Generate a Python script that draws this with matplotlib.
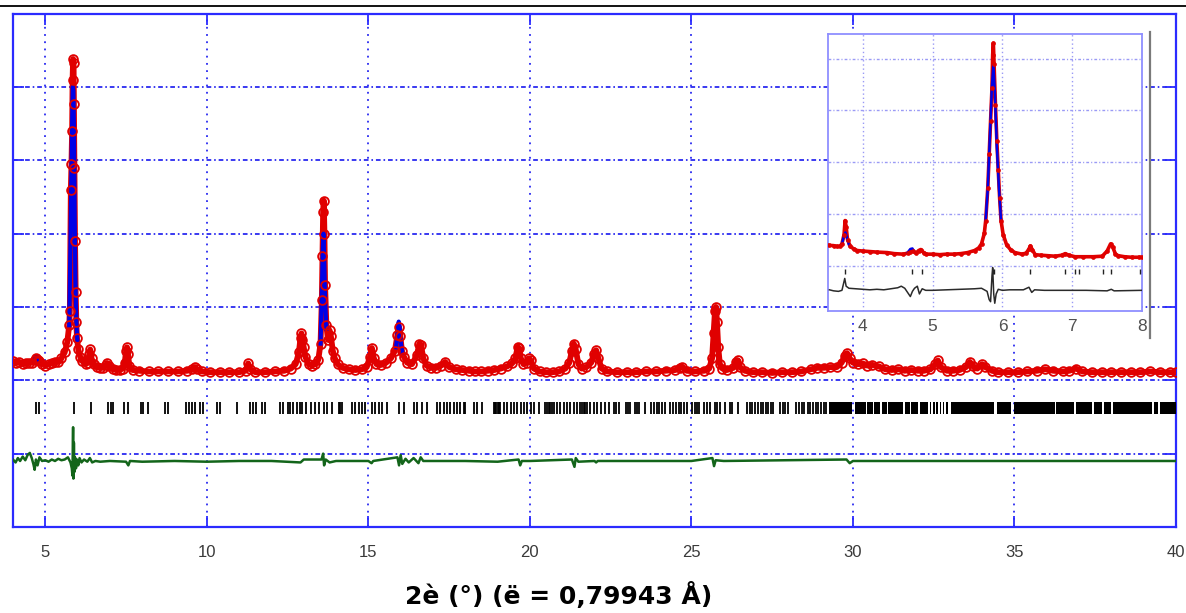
import numpy as np
import matplotlib
matplotlib.use("Agg")
import matplotlib.pyplot as plt
from matplotlib.lines import Line2D

# ---------------- main pattern data ----------------
obs_x = [4.00, 4.10, 4.20, 4.30, 4.40, 4.50, 4.60, 4.68, 4.72, 4.76, 4.82, 4.90,
         5.00, 5.10, 5.20, 5.30, 5.40, 5.50, 5.60, 5.68, 5.74, 5.76, 5.79, 5.81,
         5.83, 5.845, 5.86, 5.875, 5.885, 5.90, 5.92, 5.94, 5.96, 5.98, 6.02, 6.08,
         6.15, 6.25, 6.32, 6.36, 6.39, 6.43, 6.50, 6.60, 6.70, 6.80, 6.88, 6.92,
         6.98, 7.10, 7.20, 7.30, 7.40, 7.46, 7.50, 7.53, 7.56, 7.60, 7.70, 7.90,
         8.20, 8.50, 8.80, 9.10, 9.40, 9.55, 9.63, 9.70, 9.85, 10.1, 10.4, 10.7,
         11.0, 11.2, 11.28, 11.35, 11.5, 11.8, 12.1, 12.4, 12.6, 12.75, 12.85, 12.90,
         12.93, 12.96, 13.00, 13.05, 13.15, 13.25, 13.35, 13.45, 13.52, 13.56, 13.58, 13.60,
         13.62, 13.64, 13.66, 13.70, 13.75, 13.80, 13.84, 13.90, 13.96, 14.05, 14.2, 14.4,
         14.6, 14.8, 14.95, 15.05, 15.11, 15.17, 15.25, 15.4, 15.55, 15.7, 15.82, 15.90,
         15.95, 15.99, 16.04, 16.10, 16.2, 16.35, 16.50, 16.58, 16.63, 16.70, 16.8, 16.95,
         17.1, 17.25, 17.38, 17.5, 17.7, 17.9, 18.1, 18.3, 18.5, 18.7, 18.9, 19.1,
         19.3, 19.45, 19.55, 19.62, 19.67, 19.72, 19.80, 19.90, 19.97, 20.03, 20.12, 20.3,
         20.5, 20.7, 20.9, 21.1, 21.22, 21.30, 21.36, 21.42, 21.50, 21.6, 21.75, 21.90,
         21.98, 22.05, 22.12, 22.22, 22.4, 22.7, 23.0, 23.3, 23.6, 23.9, 24.2, 24.5,
         24.65, 24.72, 24.85, 25.1, 25.4, 25.55, 25.64, 25.69, 25.73, 25.76, 25.79, 25.83,
         25.88, 25.96, 26.1, 26.3, 26.38, 26.44, 26.50, 26.65, 26.9, 27.2, 27.5, 27.8,
         28.1, 28.4, 28.7, 28.9, 29.1, 29.3, 29.5, 29.65, 29.75, 29.82, 29.90, 30.0,
         30.15, 30.3, 30.45, 30.6, 30.8, 31.0, 31.2, 31.4, 31.6, 31.8, 32.0, 32.2,
         32.4, 32.55, 32.63, 32.72, 32.9, 33.1, 33.3, 33.5, 33.62, 33.72, 33.85, 34.0,
         34.1, 34.3, 34.5, 34.8, 35.1, 35.4, 35.7, 35.95, 36.2, 36.5, 36.7, 36.9,
         37.1, 37.4, 37.7, 38.0, 38.3, 38.6, 38.9, 39.2, 39.5, 39.8, 40.0]
obs_y = [0.26, 0.24, 0.25, 0.22, 0.23, 0.24, 0.24, 0.28, 0.31, 0.28, 0.26, 0.22,
         0.20, 0.22, 0.23, 0.25, 0.25, 0.30, 0.38, 0.52, 0.75, 0.95, 2.60, 2.95,
         3.40, 4.10, 4.38, 4.32, 3.77, 2.90, 1.90, 1.20, 0.80, 0.58, 0.42, 0.32,
         0.26, 0.22, 0.24, 0.36, 0.42, 0.30, 0.22, 0.18, 0.17, 0.17, 0.21, 0.23,
         0.19, 0.15, 0.14, 0.14, 0.16, 0.24, 0.40, 0.45, 0.36, 0.20, 0.14, 0.13,
         0.12, 0.12, 0.12, 0.12, 0.13, 0.15, 0.18, 0.15, 0.12, 0.11, 0.11, 0.11,
         0.11, 0.13, 0.23, 0.15, 0.11, 0.11, 0.12, 0.13, 0.16, 0.22, 0.38, 0.58,
         0.64, 0.55, 0.45, 0.32, 0.22, 0.20, 0.22, 0.28, 0.50, 1.10, 1.70, 2.30,
         2.45, 2.00, 1.30, 0.75, 0.55, 0.68, 0.60, 0.40, 0.30, 0.22, 0.17, 0.15,
         0.14, 0.15, 0.18, 0.32, 0.44, 0.30, 0.22, 0.21, 0.24, 0.30, 0.40, 0.62,
         0.73, 0.60, 0.40, 0.32, 0.24, 0.22, 0.34, 0.50, 0.48, 0.30, 0.20, 0.17,
         0.17, 0.20, 0.25, 0.18, 0.15, 0.14, 0.13, 0.12, 0.12, 0.13, 0.14, 0.16,
         0.19, 0.23, 0.30, 0.45, 0.44, 0.30, 0.22, 0.24, 0.30, 0.27, 0.16, 0.12,
         0.11, 0.11, 0.12, 0.16, 0.24, 0.40, 0.50, 0.42, 0.22, 0.16, 0.18, 0.24,
         0.36, 0.41, 0.30, 0.16, 0.12, 0.11, 0.11, 0.11, 0.12, 0.12, 0.13, 0.14,
         0.17, 0.18, 0.13, 0.12, 0.13, 0.16, 0.30, 0.65, 0.95, 1.00, 0.80, 0.45,
         0.22, 0.16, 0.14, 0.17, 0.25, 0.27, 0.18, 0.13, 0.11, 0.11, 0.10, 0.11,
         0.11, 0.12, 0.15, 0.17, 0.17, 0.18, 0.18, 0.24, 0.33, 0.37, 0.30, 0.24,
         0.22, 0.23, 0.20, 0.21, 0.19, 0.15, 0.14, 0.15, 0.13, 0.14, 0.13, 0.13,
         0.15, 0.22, 0.27, 0.18, 0.13, 0.13, 0.14, 0.18, 0.25, 0.19, 0.16, 0.22,
         0.18, 0.13, 0.11, 0.11, 0.11, 0.12, 0.13, 0.15, 0.13, 0.12, 0.13, 0.16,
         0.12, 0.11, 0.11, 0.11, 0.11, 0.11, 0.11, 0.12, 0.11, 0.11, 0.11]

# calculated profile near the reflections where it shows (NaN separates pieces)
calc_x = [4.66, 4.70, 4.74, 4.78, np.nan,
          5.74, 5.78, 5.81, 5.83, 5.85, 5.87, 5.89, 5.91, 5.93, 5.96, 5.99, np.nan,
          13.52, 13.56, 13.59, 13.61, 13.63, 13.66, 13.70, np.nan,
          15.86, 15.91, 15.94, 15.97, 16.01, 16.05]
calc_y = [0.27, 0.33, 0.33, 0.27, np.nan,
          0.75, 1.90, 2.90, 3.50, 4.00, 3.95, 3.30, 2.20, 1.40, 0.80, 0.55, np.nan,
          0.50, 1.20, 1.80, 2.00, 1.70, 1.10, 0.70, np.nan,
          0.45, 0.70, 0.80, 0.72, 0.50, 0.38]

# Bragg reflection positions
tick_pos = [4.71, 4.81, 5.90, 6.41, 6.93, 7.02, 7.11, 7.45, 7.57, 7.96, 8.03, 8.17,
            8.71, 8.81, 9.37, 9.44, 9.53, 9.63, 9.78, 9.89, 10.30, 10.42, 10.94, 11.35,
            11.44, 11.52, 11.70, 11.80, 12.27, 12.35, 12.50, 12.58, 12.68, 12.78, 12.88, 12.95,
            13.08, 13.21, 13.36, 13.46, 13.62, 13.72, 13.88, 14.08, 14.13, 14.18, 14.49, 14.60,
            14.70, 14.80, 14.91, 15.11, 15.22, 15.32, 15.42, 15.58, 15.94, 16.09, 16.40, 16.51,
            16.66, 16.82, 17.13, 17.23, 17.33, 17.44, 17.54, 17.64, 17.75, 17.85, 17.95, 18.00,
            18.26, 18.36, 18.52, 18.88, 18.92, 18.96, 19.00, 19.04, 19.09, 19.19, 19.29, 19.40,
            19.50, 19.60, 19.71, 19.81, 19.91, 20.02, 20.12, 20.27, 20.48, 20.53, 20.58, 20.63,
            20.69, 20.74, 20.84, 20.94, 21.05, 21.15, 21.25, 21.36, 21.46, 21.56, 21.61, 21.66,
            21.72, 21.77, 21.87, 21.98, 22.08, 22.21, 22.31, 22.44, 22.60, 22.68, 22.75, 22.96,
            23.03, 23.09, 23.25, 23.32, 23.39, 23.55, 23.75, 23.83, 23.92, 24.01, 24.09, 24.17,
            24.35, 24.43, 24.52, 24.61, 24.69, 24.78, 24.85, 25.02, 25.10, 25.18, 25.25, 25.40,
            25.49, 25.56, 25.72, 25.80, 25.87, 26.05, 26.19, 26.27, 26.44, 26.72, 26.81, 26.89,
            26.97, 27.05, 27.14, 27.22, 27.30, 27.38, 27.47, 27.53, 27.74, 27.82, 27.90, 27.98,
            28.25, 28.32, 28.41, 28.48, 28.60, 28.68, 28.77, 28.85, 28.93, 29.02, 29.10, 29.18]
# ranges where reflections merge into a continuous band (start, end)
tick_band_start = [29.25, 30.05, 30.44, 30.66, 30.89, 31.10, 31.60, 31.80, 32.07, 32.38,
                   32.48, 32.58, 32.68, 32.78, 32.88, 33.05, 34.45, 34.98, 36.30, 36.89,
                   37.45, 37.78, 38.05, 39.32, 39.50]
tick_band_end = [29.97, 30.40, 30.62, 30.85, 31.06, 31.55, 31.76, 32.02, 32.33, 32.43,
                 32.53, 32.63, 32.73, 32.83, 32.93, 34.38, 34.90, 36.25, 36.84, 37.40,
                 37.72, 38.00, 39.25, 39.45, 40.00]

diff_x = [4.00, 4.08, 4.15, 4.22, 4.30, 4.38, 4.45, 4.52, 4.58, 4.63, 4.67, 4.71,
          4.76, 4.82, 4.90, 5.0, 5.1, 5.2, 5.3, 5.4, 5.5, 5.6, 5.7, 5.78,
          5.82, 5.84, 5.86, 5.87, 5.885, 5.90, 5.92, 5.95, 5.98, 6.02, 6.06, 6.12,
          6.2, 6.3, 6.38, 6.45, 6.55, 6.7, 7.0, 7.5, 7.57, 7.62, 8.0, 9.0,
          10.0, 11.0, 12.0, 12.9, 13.0, 13.55, 13.60, 13.63, 13.68, 13.8, 14.0, 15.0,
          15.1, 15.15, 15.9, 15.95, 16.0, 16.05, 16.15, 16.25, 16.4, 16.55, 16.62, 16.7,
          17.0, 18.0, 19.0, 19.65, 19.7, 19.75, 20.0, 21.3, 21.38, 21.42, 21.5, 22.0,
          22.05, 22.1, 23.0, 25.0, 25.65, 25.7, 25.75, 26.0, 29.8, 29.9, 30.0, 35.0, 40.0]
diff_y = [-1.08, -1.12, -1.06, -1.10, -1.04, -1.09, -1.02, -0.99, -1.06, -1.14, -1.22, -1.08,
          -1.16, -1.05, -1.10, -1.09, -1.11, -1.08, -1.10, -1.07, -1.09, -1.08, -1.05, -1.12,
          -1.20, -1.30, -0.64, -1.34, -0.85, -1.25, -1.05, -1.20, -1.08, -1.16, -1.06, -1.12,
          -1.08, -1.11, -1.06, -1.12, -1.10, -1.11, -1.10, -1.11, -1.16, -1.10, -1.11, -1.10,
          -1.11, -1.10, -1.10, -1.12, -1.08, -1.08, -1.00, -1.16, -1.08, -1.12, -1.10, -1.10,
          -1.13, -1.10, -1.05, -1.16, -1.02, -1.14, -1.07, -1.12, -1.06, -1.13, -1.05, -1.10,
          -1.10, -1.10, -1.11, -1.08, -1.16, -1.10, -1.10, -1.08, -1.18, -1.06, -1.11, -1.10,
          -1.12, -1.10, -1.10, -1.10, -1.06, -1.17, -1.09, -1.10, -1.08, -1.13, -1.10, -1.10, -1.10]

x_ticks = [5, 10, 15, 20, 25, 30, 35, 40]
x_tick_labels = ["5", "10", "15", "20", "25", "30", "35", "40"]
y_grid = [-1, 0, 1, 2, 3, 4]
x_label = "2è (°) (ë = 0,79943 Å)"

# ---------------- inset data ----------------
in_obs_x = [3.52, 3.58, 3.63, 3.67, 3.70, 3.73, 3.745, 3.76, 3.78, 3.82, 3.87, 3.92,
            4.0, 4.1, 4.2, 4.35, 4.45, 4.58, 4.64, 4.68, 4.72, 4.76, 4.80, 4.83,
            4.87, 4.91, 5.0, 5.1, 5.2, 5.3, 5.4, 5.5, 5.6, 5.66, 5.70, 5.74,
            5.76, 5.79, 5.81, 5.83, 5.85, 5.86, 5.87, 5.88, 5.90, 5.92, 5.94, 5.96,
            5.98, 6.01, 6.06, 6.12, 6.18, 6.28, 6.34, 6.38, 6.40, 6.43, 6.47, 6.55,
            6.65, 6.76, 6.85, 6.90, 6.95, 7.04, 7.15, 7.3, 7.43, 7.50, 7.55, 7.58,
            7.62, 7.66, 7.75, 7.85, 7.95, 8.0]
in_obs_y = [0.39, 0.385, 0.37, 0.37, 0.42, 0.60, 0.87, 0.75, 0.50, 0.37, 0.32, 0.29,
            0.28, 0.27, 0.26, 0.25, 0.23, 0.22, 0.24, 0.27, 0.28, 0.24, 0.29, 0.31,
            0.25, 0.22, 0.22, 0.21, 0.22, 0.22, 0.23, 0.25, 0.29, 0.34, 0.42, 0.62,
            0.87, 1.50, 2.15, 2.80, 3.43, 4.08, 4.30, 3.90, 3.10, 2.40, 1.84, 1.30,
            0.87, 0.60, 0.40, 0.30, 0.25, 0.22, 0.24, 0.32, 0.38, 0.30, 0.21, 0.20,
            0.19, 0.18, 0.20, 0.23, 0.20, 0.17, 0.17, 0.17, 0.18, 0.28, 0.42, 0.36,
            0.22, 0.19, 0.17, 0.16, 0.16, 0.16]
in_calc_x = [3.70, 3.73, 3.75, 3.77, 3.80, np.nan,
             4.64, 4.68, 4.71, 4.74, np.nan,
             5.76, 5.79, 5.82, 5.85, 5.87, 5.89, 5.92, 5.95, 5.98]
in_calc_y = [0.42, 0.58, 0.64, 0.55, 0.40, np.nan,
             0.25, 0.32, 0.33, 0.26, np.nan,
             0.87, 1.50, 2.50, 3.50, 3.88, 3.40, 2.30, 1.50, 0.87]
in_tick_pos = [3.745, 4.70, 4.85, 5.86, 5.88, 6.40, 6.89, 7.04, 7.09, 7.44, 7.56, 7.97]
in_diff_x = [3.52, 3.58, 3.65, 3.70, 3.74, 3.76, 3.80, 3.9, 4.0, 4.1, 4.2, 4.3,
             4.4, 4.5, 4.55, 4.6, 4.64, 4.68, 4.71, 4.74, 4.78, 4.81, 4.85, 4.9,
             5.0, 5.2, 5.4, 5.6, 5.7, 5.78, 5.81, 5.83, 5.85, 5.86, 5.875, 5.89,
             5.91, 5.94, 6.0, 6.1, 6.3, 6.38, 6.42, 6.46, 6.6, 6.9, 7.2, 7.5,
             7.56, 7.6, 8.0]
in_diff_y = [-0.47, -0.49, -0.50, -0.48, -0.25, -0.40, -0.44, -0.45, -0.46, -0.47, -0.46, -0.47,
             -0.45, -0.43, -0.40, -0.44, -0.52, -0.60, -0.50, -0.44, -0.40, -0.55, -0.45, -0.48,
             -0.48, -0.47, -0.46, -0.45, -0.44, -0.50, -0.66, -0.70, -0.20, -0.04, -0.55, -0.73,
             -0.55, -0.46, -0.48, -0.47, -0.47, -0.42, -0.52, -0.47, -0.48, -0.48, -0.48, -0.49,
             -0.46, -0.49, -0.48]
in_x_ticks = [4, 5, 6, 7, 8]
in_y_grid = [0, 1, 2, 3, 4]

# ---------------- styling ----------------
W, H = 1186, 613
fig = plt.figure(figsize=(W / 100, H / 100), dpi=100)
plt.rcParams['font.family'] = ['Liberation Sans', 'DejaVu Sans']

FRAME = '#2b2bff'
GRID = '#2a2af0'
RED = '#e00000'
BLUE = '#0000e6'
GREEN = '#13651a'

ax = fig.add_axes([13 / W, 1 - 527 / H, (1176 - 13) / W, (527 - 13.5) / H])
ax.set_xlim(4, 40)
ax.set_ylim(-2, 5)

ax.plot(obs_x, obs_y, color=RED, lw=4.2, solid_joinstyle='round', zorder=3)
ax.plot(calc_x, calc_y, color=BLUE, lw=3.0, zorder=4)
ax.plot(obs_x, obs_y, ls='none', marker='o', ms=6.3, mfc='none', mec=RED, mew=1.3, zorder=5)

ax.vlines(tick_pos, -0.455, -0.295, color='k', lw=1.3, zorder=3)
ax.broken_barh([(s, e - s) for s, e in zip(tick_band_start, tick_band_end)], (-0.455, 0.16),
               facecolor='k', edgecolor='none', zorder=3)

ax.plot(diff_x, diff_y, color=GREEN, lw=1.8, zorder=3)

ax.set_xticks(x_ticks)
ax.set_xticklabels(x_tick_labels)
ax.set_yticks(y_grid)
ax.set_yticklabels([])
ax.tick_params(direction='in', length=8, width=1.3, color=FRAME, top=True, right=True,
               labelsize=12, labelcolor='#3a3a3a', pad=13)
for sp in ax.spines.values():
    sp.set_color(FRAME)
    sp.set_linewidth(1.6)
for xv in x_ticks[:-1]:
    ax.axvline(xv, color=GRID, lw=1.3, ls=(0, (1.0, 3.0)), zorder=1)
for yv in y_grid:
    ax.axhline(yv, color=GRID, lw=1.3, ls=(0, (2.6, 1.6, 0.9, 1.6)), zorder=1)

fig.text(559 / W, 1 - 596 / H, x_label, ha='center', va='center', fontsize=18,
         fontweight='bold', color='black', family=['DejaVu Sans'])

# top separator line and inset side line
fig.add_artist(Line2D([0, 1], [1 - 6 / H, 1 - 6 / H], color='black', lw=1.3))
fig.add_artist(Line2D([1150 / W, 1150 / W], [1 - 32 / H, 1 - 338 / H], color='#7a7a7a', lw=1.6))

# ---------------- inset ----------------
IN_FRAME = '#8f8fff'
IN_GRID = '#9a9af5'
axi = fig.add_axes([828 / W, 1 - 311 / H, (1142 - 828) / W, (311 - 34) / H])
axi.set_xlim(3.5, 8)
axi.set_ylim(-0.88, 4.48)
axi.set_facecolor('white')
axi.plot(in_obs_x, in_obs_y, color=RED, lw=2.6, solid_joinstyle='round', zorder=3)
axi.plot(in_calc_x, in_calc_y, color=BLUE, lw=1.8, zorder=4)
axi.plot(in_obs_x, in_obs_y, ls='none', marker='o', ms=2.8, mfc=RED, mec=RED, mew=0.5, zorder=5)
axi.vlines(in_tick_pos, -0.17, -0.06, color='#222222', lw=1.0, zorder=3)
axi.plot(in_diff_x, in_diff_y, color='#2a2a2a', lw=1.1, zorder=3)
axi.set_xticks(in_x_ticks)
axi.set_xticklabels([str(v) for v in in_x_ticks])
axi.set_yticks(in_y_grid)
axi.set_yticklabels([])
axi.tick_params(direction='in', length=0, labelsize=12.5, labelcolor='#505050', pad=6)
for sp in axi.spines.values():
    sp.set_color(IN_FRAME)
    sp.set_linewidth(1.3)
for xv in in_x_ticks[:-1]:
    axi.axvline(xv, color=IN_GRID, lw=1.0, ls=(0, (1.0, 2.0)), zorder=1)
for yv in in_y_grid:
    axi.axhline(yv, color=IN_GRID, lw=1.0, ls=(0, (2.0, 1.5, 0.8, 1.5)), zorder=1)

fig.savefig('out.png', dpi=100)
